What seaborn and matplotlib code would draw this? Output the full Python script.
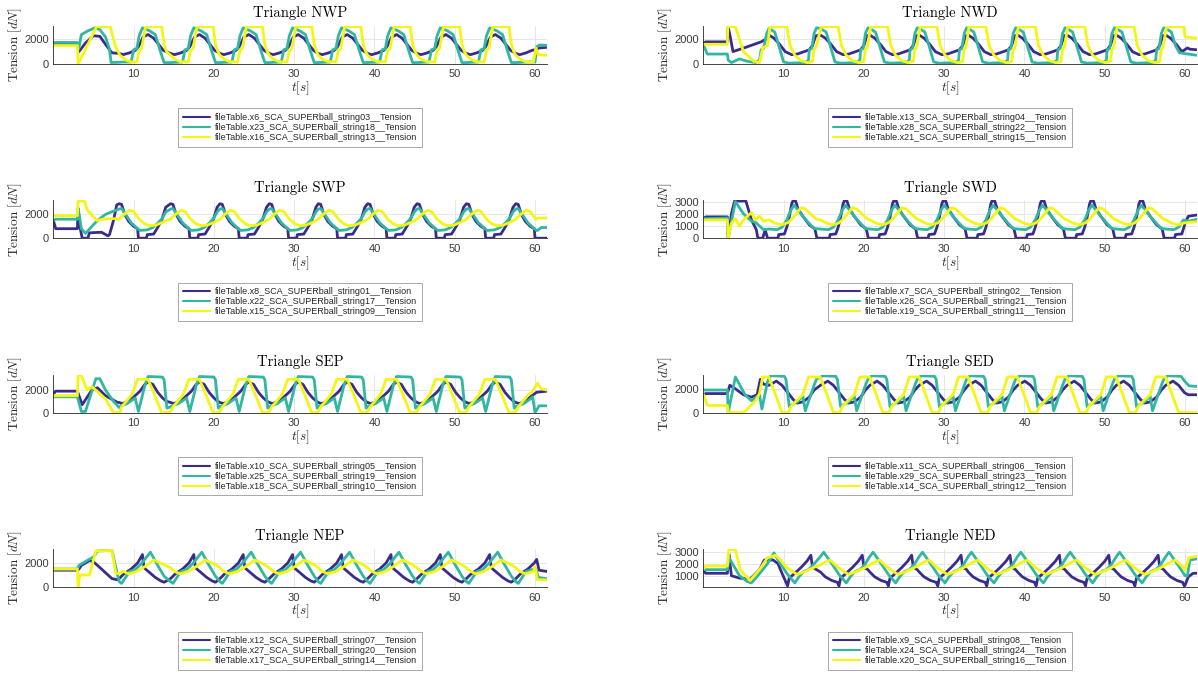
import matplotlib
matplotlib.use("Agg")
import matplotlib.pyplot as plt
from matplotlib.lines import Line2D
import pandas as pd
import seaborn as sns

# ---------------- data ----------------
# times (s) at which each gait cycle starts
CYCLE_T = [8.2, 14.6, 20.75, 26.9, 33.0, 39.15, 45.3, 51.45, 57.6]

# each series: start knots (t, dN), one-cycle shape (dt from cycle start, dN), end knots (t, dN)
NWP_B_START = [(0.05,1600),(3.0,1600),(3.2,1000),(4.0,1700),(5.0,2300),(5.8,2250),(6.5,1600),(7.3,900),(8.2,850)]
NWP_B_CYCLE = [(0.0,850),(0.5,750),(1.3,900),(2.0,1100),(2.4,1400),(3.0,2200),(3.6,2400),(4.3,2100),(4.9,1600),(5.5,1100)]
NWP_B_END = [(60.0,1150),(60.5,1300),(61.45,1350)]
NWP_T_START = [(0.05,1750),(3.0,1750),(3.15,1200),(3.5,2400),(4.3,2700),(5.2,2950),(5.8,2800),(6.5,2200),(7.0,1200),(7.2,100),(9.0,150)]
NWP_T_CYCLE = [(0.0,100),(1.5,150),(1.8,1150),(2.2,1250),(2.5,2300),(2.9,2950),(3.8,2700),(4.5,2400),(5.1,1100),(5.6,100)]
NWP_T_END = [(59.3,150),(60.0,150),(60.2,1400),(60.6,1550),(61.45,1500)]
NWP_Y_START = [(0.05,1500),(3.0,1500),(3.1,0),(5.4,3050),(7.1,3050),(7.7,1500),(8.3,700),(9.2,250),(9.8,150)]
NWP_Y_CYCLE = [(0.0,700),(0.6,350),(1.2,180),(2.2,150),(2.5,1100),(2.8,1250),(3.3,3050),(5.3,3050),(5.6,1600),(5.9,1000)]
NWP_Y_END = [(59.8,150),(60.1,1300),(60.4,750),(61.45,700)]

NWD_B_START = [(0.05,1700),(0.3,1800),(3.0,1800),(3.1,3000),(3.3,2400),(3.7,1000),(5.5,1400),(7.2,1800),(8.0,2100)]
NWD_B_CYCLE = [(0.0,2350),(0.6,2100),(1.3,1600),(2.0,1000),(2.8,750),(3.5,800),(4.6,1050),(5.0,1150),(5.4,1500),(5.8,2300)]
NWD_B_END = [(60.3,1300),(60.6,1200),(61.45,1150)]
NWD_T_START = [(0.05,1500),(0.5,800),(3.0,800),(3.1,300),(3.5,100),(4.5,400),(5.5,200),(6.5,100),(7.0,300),(7.2,1150),(7.5,1250),(7.9,2500),(8.2,2900)]
NWD_T_CYCLE = [(0.0,2900),(0.7,2600),(1.2,1500),(1.8,150),(2.5,50),(4.5,100),(4.9,300),(5.0,1150),(5.3,1250),(5.6,2500),(5.9,2950)]
NWD_T_END = [(59.3,900),(61.45,700)]
NWD_Y_START = [(0.05,1600),(3.0,1600),(3.05,3050),(4.0,3050),(5.0,1000),(6.3,200),(7.0,100),(7.4,1300),(8.0,1500)]
NWD_Y_CYCLE = [(0.1,3050),(2.2,3050),(2.6,1500),(3.2,700),(4.0,250),(4.8,100),(5.4,200),(5.6,1200),(5.8,1300)]
NWD_Y_END = [(60.0,2200),(61.45,2100)]

SWP_B_START = [(0.05,1400),(0.3,800),(3.0,800),(3.1,2500),(3.3,1000),(3.6,0),(4.3,0),(4.5,450),(6.0,500),(6.8,200),(7.0,300),(7.5,1500),(7.9,2800)]
SWP_B_CYCLE = [(0.0,2900),(0.3,2850),(0.7,2000),(1.2,1400),(1.8,1000),(2.3,800),(2.4,0),(3.4,0),(3.5,300),(4.3,350),(4.8,900),(5.3,1500),(5.8,2600)]
SWP_B_END = [(60.0,0),(61.45,0)]
SWP_T_START = [(0.05,1500),(0.3,1600),(3.0,1600),(3.1,2500),(3.5,800),(4.0,400),(5.5,1500),(6.5,2000),(7.2,2200),(8.0,2400)]
SWP_T_CYCLE = [(0.0,2450),(0.3,2500),(0.8,2000),(1.5,1300),(2.3,800),(2.6,650),(3.5,700),(4.2,900),(4.8,1250),(5.4,1700),(5.8,2200)]
SWP_T_END = [(60.3,650),(60.8,900),(61.45,900)]
SWP_Y_START = [(0.05,1900),(3.0,1900),(3.1,3150),(3.9,3100),(4.2,2400),(5.4,1500),(6.2,1600),(7.5,1650)]
SWP_Y_CYCLE = [(0.0,1600),(0.6,2000),(1.3,2350),(1.8,2250),(2.5,1600),(3.2,1200),(3.8,1050),(4.6,1100),(5.3,1300),(5.9,1500)]
SWP_Y_END = [(60.4,1700),(61.45,1700)]

SWD_B_START = [(0.05,1600),(0.3,1750),(3.0,1750),(3.1,0),(3.5,2000),(3.9,3050),(5.3,3050),(6.0,1500),(6.6,700),(6.8,0),(7.4,0),(7.7,700),(8.0,0),(9.2,0)]
SWD_B_CYCLE = [(0.0,0),(1.1,0),(1.2,300),(1.9,350),(2.2,900),(2.5,1700),(2.8,2800),(2.95,3050),(3.3,3050),(3.6,2400),(4.2,1800),(5.0,1100),(5.7,750),(5.95,0)]
SWD_B_END = [(59.6,350),(60.0,1200),(60.4,1800),(61.45,1900)]
SWD_T_START = [(0.05,1600),(3.0,1650),(3.1,0),(4.0,3000),(5.0,2000),(6.0,1400),(6.5,1300),(7.5,700),(8.2,750)]
SWD_T_CYCLE = [(0.0,750),(1.0,700),(1.6,900),(2.2,1500),(2.7,2300),(3.1,2700),(3.5,2400),(4.2,1800),(5.0,1200),(5.6,800)]
SWD_T_END = [(59.8,1500),(60.5,1400),(61.45,1550)]
SWD_Y_START = [(0.05,1500),(3.0,1500),(3.1,0),(3.5,1200),(4.0,1600),(4.5,1000),(5.0,1500),(6.0,2100),(6.5,1500),(7.0,1800),(7.5,1400)]
SWD_Y_CYCLE = [(0.0,1500),(0.7,1250),(1.5,1100),(2.3,1250),(3.0,1700),(3.6,2200),(4.0,2500),(4.5,2400),(5.3,1900),(5.9,1550)]
SWD_Y_END = [(60.0,1250),(60.5,1300),(61.45,1350)]

SEP_B_START = [(0.05,1700),(0.3,1900),(3.0,1900),(3.6,700),(4.8,2000),(5.5,2200),(6.5,1500),(8.0,900)]
SEP_B_CYCLE = [(0.0,900),(0.4,800),(1.2,1000),(2.0,1500),(2.6,1900),(3.2,2500),(3.6,2700),(4.2,2500),(4.8,1800),(5.4,1300),(5.9,1000)]
SEP_B_END = [(59.8,1600),(60.2,1800),(61.45,1900)]
SEP_T_START = [(0.05,1400),(3.0,1400),(3.5,100),(4.0,100),(5.3,3000),(5.8,3000),(6.5,2000),(7.5,1000),(8.2,450)]
SEP_T_CYCLE = [(0.0,500),(0.2,600),(1.0,800),(2.0,1300),(2.4,100),(3.2,2400),(3.6,3200),(5.4,3150),(5.6,2900),(5.95,400)]
SEP_T_END = [(59.7,1400),(60.0,0),(60.5,600),(61.45,600)]
SEP_Y_START = [(0.05,1500),(3.0,1500),(3.1,3300),(3.5,3300),(4.2,2000),(4.8,2300),(6.5,1200),(7.5,0),(8.3,0)]
SEP_Y_CYCLE = [(0.0,100),(0.3,500),(1.0,1100),(1.6,1600),(2.3,2950),(3.6,2950),(4.4,1600),(5.3,0),(5.95,0)]
SEP_Y_END = [(59.6,1800),(60.3,2600),(60.8,2100),(61.45,2000)]

SED_B_START = [(0.05,1500),(0.3,1600),(3.0,1600),(3.3,2300),(4.0,2000),(5.0,1500),(6.0,1300),(6.7,1500),(7.1,2800),(7.5,2400),(8.0,2300)]
SED_B_CYCLE = [(0.0,2300),(0.9,2650),(1.6,2300),(2.3,1700),(3.0,1100),(3.5,800),(4.2,900),(5.0,1300),(5.6,1900)]
SED_B_END = [(60.0,1650),(60.4,1500),(61.45,1500)]
SED_T_START = [(0.05,1900),(3.0,1900),(3.1,0),(4.0,3000),(5.2,1500),(6.0,1000),(7.0,1500),(7.3,300),(8.0,2600)]
SED_T_CYCLE = [(0.0,2900),(0.2,3100),(1.9,3050),(2.1,2800),(2.5,500),(2.7,600),(3.5,900),(4.2,1400),(4.5,150),(5.6,2300),(5.95,2900)]
SED_T_END = [(59.5,3050),(60.0,2600),(60.5,2250),(61.45,2200)]
SED_Y_START = [(0.05,1500),(0.5,600),(3.0,600),(3.1,0),(5.0,0),(5.5,300),(6.5,1000),(7.0,1600),(7.4,3000),(7.9,3000)]
SED_Y_CYCLE = [(0.0,2950),(0.8,1500),(1.6,0),(2.4,0),(2.7,500),(3.4,1000),(4.2,1500),(4.9,3000),(5.95,3000)]
SED_Y_END = [(59.3,0),(61.45,0)]

NEP_B_START = [(0.05,1400),(3.0,1400),(3.2,1500),(3.5,1800),(4.5,2200),(5.0,2100),(6.0,1500),(7.3,700),(8.0,600)]
NEP_B_CYCLE = [(0.0,700),(0.6,1100),(1.5,1500),(2.3,2000),(2.9,2700),(3.1,1600),(3.8,1200),(4.5,800),(5.2,500),(5.6,400)]
NEP_B_END = [(59.9,2000),(60.2,2300),(60.5,1400),(61.45,1300)]
NEP_T_START = [(0.05,1500),(3.0,1500),(3.2,1800),(4.2,2200),(5.0,2500),(5.5,3000),(7.3,3050),(8.0,1000),(8.2,450)]
NEP_T_CYCLE = [(0.0,450),(0.3,300),(0.8,800),(1.3,1300),(2.0,1450),(2.7,1900),(3.9,2900),(4.8,1800),(5.6,900)]
NEP_T_END = [(59.7,1450),(60.1,1500),(60.4,800),(61.45,700)]
NEP_Y_START = [(0.05,1500),(3.0,1500),(3.1,0),(3.3,1000),(4.5,1000),(5.3,3000),(7.3,3050),(7.8,1100),(8.5,1200)]
NEP_Y_CYCLE = [(0.0,1600),(0.5,1300),(1.2,1100),(2.2,1300),(3.2,1700),(4.3,2250),(4.8,2100),(5.5,1900)]
NEP_Y_END = [(60.0,1700),(60.3,600),(61.45,600)]

NED_B_START = [(0.05,1400),(0.3,1200),(3.0,1200),(3.2,2800),(3.5,1000),(4.5,800),(5.8,700),(7.0,1500),(7.6,2300),(8.7,2300),(9.3,2000),(9.8,1200)]
NED_B_CYCLE = [(0.0,1300),(0.6,900),(1.4,600),(2.1,450),(2.3,150),(2.5,800),(3.2,1200),(4.0,1700),(4.7,2200),(5.2,2700),(5.4,1700),(5.9,1500)]
NED_B_END = [(60.0,200),(60.4,900),(61.0,1200),(61.45,1200)]
NED_T_START = [(0.05,1500),(3.0,1500),(3.2,2500),(4.5,1000),(5.5,500),(6.0,400),(6.8,1000),(8.0,2000),(8.8,2900)]
NED_T_CYCLE = [(0.0,2600),(0.4,2950),(1.3,2100),(2.3,1100),(3.2,400),(3.7,900),(4.3,1350),(4.9,1500),(5.5,1900)]
NED_T_END = [(60.0,1000),(60.3,1000),(60.6,2300),(61.45,2400)]
NED_Y_START = [(0.05,1600),(0.3,1800),(3.0,1800),(3.2,3200),(4.0,3150),(4.6,1500),(5.8,600),(7.0,1500),(8.0,2500),(9.0,2700),(9.6,2300)]
NED_Y_CYCLE = [(0.0,1900),(0.5,2100),(1.2,2300),(2.0,1800),(2.8,1400),(3.5,1100),(4.3,1300),(5.0,1500),(5.6,1700)]
NED_Y_END = [(60.0,1500),(60.5,2500),(61.45,2600)]

TITLES = ["Triangle NWP", "Triangle NWD", "Triangle SWP", "Triangle SWD",
          "Triangle SEP", "Triangle SED", "Triangle NEP", "Triangle NED"]

NWP_LABELS = ["fileTable.x6_SCA_SUPERball_string03__Tension", "fileTable.x23_SCA_SUPERball_string18__Tension", "fileTable.x16_SCA_SUPERball_string13__Tension"]
NWD_LABELS = ["fileTable.x13_SCA_SUPERball_string04__Tension", "fileTable.x28_SCA_SUPERball_string22__Tension", "fileTable.x21_SCA_SUPERball_string15__Tension"]
SWP_LABELS = ["fileTable.x8_SCA_SUPERball_string01__Tension", "fileTable.x22_SCA_SUPERball_string17__Tension", "fileTable.x15_SCA_SUPERball_string09__Tension"]
SWD_LABELS = ["fileTable.x7_SCA_SUPERball_string02__Tension", "fileTable.x26_SCA_SUPERball_string21__Tension", "fileTable.x19_SCA_SUPERball_string11__Tension"]
SEP_LABELS = ["fileTable.x10_SCA_SUPERball_string05__Tension", "fileTable.x25_SCA_SUPERball_string19__Tension", "fileTable.x18_SCA_SUPERball_string10__Tension"]
SED_LABELS = ["fileTable.x11_SCA_SUPERball_string06__Tension", "fileTable.x29_SCA_SUPERball_string23__Tension", "fileTable.x14_SCA_SUPERball_string12__Tension"]
NEP_LABELS = ["fileTable.x12_SCA_SUPERball_string07__Tension", "fileTable.x27_SCA_SUPERball_string20__Tension", "fileTable.x17_SCA_SUPERball_string14__Tension"]
NED_LABELS = ["fileTable.x9_SCA_SUPERball_string08__Tension", "fileTable.x24_SCA_SUPERball_string24__Tension", "fileTable.x20_SCA_SUPERball_string16__Tension"]

X_TICKS = [10, 20, 30, 40, 50, 60]
Y_TICKS_A = [0, 2000]
Y_TICKS_SWD = [0, 1000, 2000, 3000]
Y_TICKS_NED = [1000, 2000, 3000]

# ---------------- assembly ----------------
def build(start, cycle, end):
    t0, t1 = start[-1][0], end[0][0]
    pts = list(start)
    for c in CYCLE_T:
        for dt, v in cycle:
            if t0 < c + dt < t1:
                pts.append((c + dt, v))
    pts += list(end)
    return pts

SERIES = {
    "NWP": [(NWP_B_START, NWP_B_CYCLE, NWP_B_END), (NWP_T_START, NWP_T_CYCLE, NWP_T_END), (NWP_Y_START, NWP_Y_CYCLE, NWP_Y_END)],
    "NWD": [(NWD_B_START, NWD_B_CYCLE, NWD_B_END), (NWD_T_START, NWD_T_CYCLE, NWD_T_END), (NWD_Y_START, NWD_Y_CYCLE, NWD_Y_END)],
    "SWP": [(SWP_B_START, SWP_B_CYCLE, SWP_B_END), (SWP_T_START, SWP_T_CYCLE, SWP_T_END), (SWP_Y_START, SWP_Y_CYCLE, SWP_Y_END)],
    "SWD": [(SWD_B_START, SWD_B_CYCLE, SWD_B_END), (SWD_T_START, SWD_T_CYCLE, SWD_T_END), (SWD_Y_START, SWD_Y_CYCLE, SWD_Y_END)],
    "SEP": [(SEP_B_START, SEP_B_CYCLE, SEP_B_END), (SEP_T_START, SEP_T_CYCLE, SEP_T_END), (SEP_Y_START, SEP_Y_CYCLE, SEP_Y_END)],
    "SED": [(SED_B_START, SED_B_CYCLE, SED_B_END), (SED_T_START, SED_T_CYCLE, SED_T_END), (SED_Y_START, SED_Y_CYCLE, SED_Y_END)],
    "NEP": [(NEP_B_START, NEP_B_CYCLE, NEP_B_END), (NEP_T_START, NEP_T_CYCLE, NEP_T_END), (NEP_Y_START, NEP_Y_CYCLE, NEP_Y_END)],
    "NED": [(NED_B_START, NED_B_CYCLE, NED_B_END), (NED_T_START, NED_T_CYCLE, NED_T_END), (NED_Y_START, NED_Y_CYCLE, NED_Y_END)],
}
LABELS = {"NWP": NWP_LABELS, "NWD": NWD_LABELS, "SWP": SWP_LABELS, "SWD": SWD_LABELS,
          "SEP": SEP_LABELS, "SED": SED_LABELS, "NEP": NEP_LABELS, "NED": NED_LABELS}

# layout: (key, row, col, ylim, yticks)
LAYOUT = [("NWP", 0, 0, (0, 3100), Y_TICKS_A), ("NWD", 0, 1, (0, 3100), Y_TICKS_A),
          ("SWP", 1, 0, (0, 3180), Y_TICKS_A), ("SWD", 1, 1, (0, 3100), Y_TICKS_SWD),
          ("SEP", 2, 0, (0, 3350), Y_TICKS_A), ("SED", 2, 1, (0, 3180), Y_TICKS_A),
          ("NEP", 3, 0, (0, 3150), Y_TICKS_A), ("NED", 3, 1, (60, 3200), Y_TICKS_NED)]

COLORS = ["#3A2C8F", "#31B7A1", "#F5F514"]

sns.set_style("white")
plt.rcParams["font.family"] = ["Liberation Sans", "DejaVu Sans"]
plt.rcParams["mathtext.fontset"] = "cm"

W, H = 1198, 675
fig = plt.figure(figsize=(W / 100, H / 100), dpi=100)

AX_LEFT = [53.3, 703.3]
AX_W = 493.4
AX_TOP0 = 26.0
ROW_STEP = 174.4
AX_H = 37.8
LEG_CY0 = 127.5

for i, (key, row, col, ylim, yticks) in enumerate(LAYOUT):
    top = AX_TOP0 + ROW_STEP * row
    ax = fig.add_axes([AX_LEFT[col] / W, 1 - (top + AX_H) / H, AX_W / W, AX_H / H])
    frames = []
    for lab, (s, c, e) in zip(LABELS[key], SERIES[key]):
        pts = build(s, c, e)
        frames.append(pd.DataFrame({"t": [p[0] for p in pts], "v": [p[1] for p in pts], "s": lab}))
    df = pd.concat(frames, ignore_index=True)
    sns.lineplot(data=df, x="t", y="v", hue="s", hue_order=LABELS[key], palette=COLORS,
                 estimator=None, sort=False, linewidth=2.0, legend=False, ax=ax)
    ax.set_xlim(0.0, 61.45)
    ax.set_ylim(*ylim)
    ax.set_xticks(X_TICKS)
    ax.set_yticks(yticks)
    ax.grid(True, color="#e3e3e3", linewidth=0.6)
    ax.set_axisbelow(True)
    for sp in ["top", "right"]:
        ax.spines[sp].set_visible(False)
    for sp in ["left", "bottom"]:
        ax.spines[sp].set_color("#262626")
        ax.spines[sp].set_linewidth(0.6)
    ax.tick_params(axis="both", direction="in", length=3, width=0.6, colors="#262626",
                   labelsize=8, labelcolor="#3a3a3a")
    ax.tick_params(axis="x", pad=4.0)
    ax.tick_params(axis="y", pad=3)
    ax.set_title(TITLES[i], fontfamily="cmr10", fontsize=10.5, pad=6.3, color="black")
    ax.set_ylabel(r"$\mathrm{Tension}\ [dN]$", fontsize=9.5, color="#262626", va="center")
    ax.yaxis.set_label_coords(-0.0776, 0.5)
    ax.set_xlabel(r"$t[s]$", fontsize=9.5, color="#262626", va="center")
    ax.xaxis.set_label_coords(0.5, -0.65)

    handles = [Line2D([], [], color=c, linewidth=1.5) for c in COLORS]
    cx = (AX_LEFT[col] + AX_W / 2) / W
    cy = 1 - (LEG_CY0 + ROW_STEP * row) / H
    leg = ax.legend(handles, LABELS[key], loc="center", bbox_to_anchor=(cx, cy),
                    bbox_transform=fig.transFigure, fontsize=6.5, frameon=True, fancybox=False,
                    edgecolor="#9a9a9a", facecolor="white", framealpha=1,
                    handlelength=3.0, handletextpad=0.6, labelspacing=0.12, borderpad=0.5)
    leg.get_frame().set_linewidth(0.6)

fig.savefig("out.png", dpi=100)
